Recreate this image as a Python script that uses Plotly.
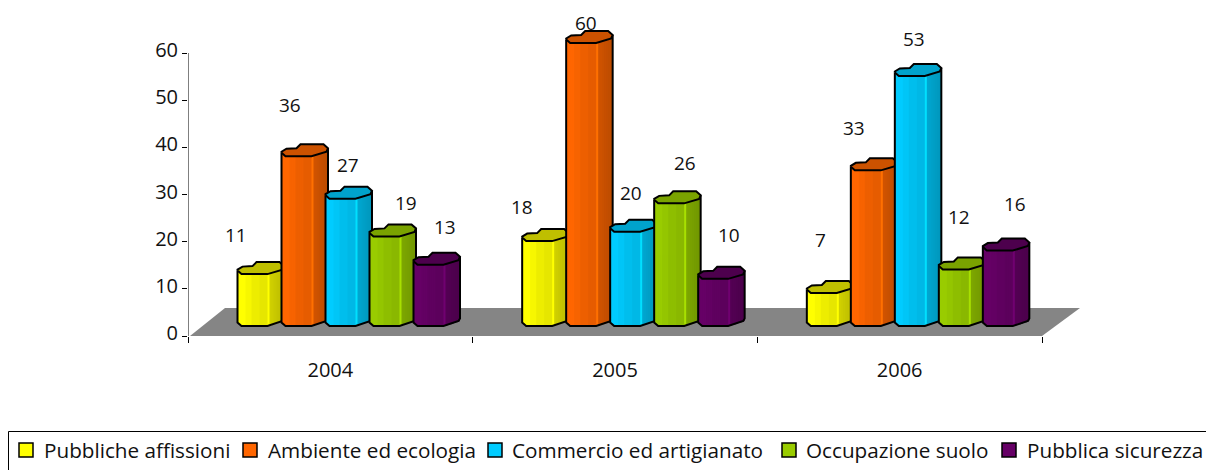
import plotly.graph_objects as go

years = ["2004", "2005", "2006"]
series_names = ["Pubbliche affissioni", "Ambiente ed ecologia", "Commercio ed artigianato",
                "Occupazione suolo", "Pubblica sicurezza"]
pubbliche = [11, 18, 7]
ambiente = [36, 60, 33]
commercio = [27, 20, 53]
occupazione = [19, 26, 12]
sicurezza = [13, 10, 16]
series_values = [pubbliche, ambiente, commercio, occupazione, sicurezza]
colors = ["#FFFF00", "#FF6600", "#00CCFF", "#99CC00", "#660066"]
top_colors = ["#BFBF00", "#CC5200", "#00A3CC", "#7AA300", "#4D004D"]
y_ticks = [0, 10, 20, 30, 40, 50, 60]
# label offsets from the bar's top centre (pixels: right, up), per series per year
label_dx = [[-25, -23, -10], [-15, -3, -20], [-1, -2, -4], [13, 8, -3], [8, 8, 9]]
label_dy = [[39, 34, 53], [51, 20, 42], [34, 39, 37], [33, 40, 52], [38, 44, 47]]
# legend layout in pixels
legend_swatch_x = [19, 243, 488, 782, 1002]
legend_text_x = [42, 266, 510, 804, 1025]

W, H = 1206, 470
LAYOUT_H = 480
AX_L, AX_R, AX_T, AX_B = 188, 1042, 53, 336
SX, SY = (AX_R - AX_L) / 3, (AX_B - AX_T) / 60
YMAX = 70
FLOOR = 10 / SY          # bars stand on the floor, 10px above the axis
BW = 46.5
START, PITCH = 49.5, 44
FONT = "Open Sans, Noto Sans, sans-serif"
FS = 20.7

SIDE = [(0, 3.5), (4, 0), (30, 0), (45, 5), (BW, 7.5)]
TOP = [(0, 3.5), (4, 0), (30, 0), (45, 4.5), (BW, 8), (42, 12), (19, 12), (15, 8), (5, 7.5), (0, 4.5)]


def px(x):
    return x / W


def py(y):
    return 1 - y / H


def prof(dx):
    for (a, b), (c, d) in zip(SIDE, SIDE[1:]):
        if dx <= c:
            return b + (d - b) * (dx - a) / (c - a)
    return SIDE[-1][1]


def shade(hex_c, f):
    r, g, b = (int(hex_c[i:i + 2], 16) for i in (1, 3, 5))
    return f"rgb({min(255, r * f):.0f},{min(255, g * f):.0f},{min(255, b * f):.0f})"


def slice_factor(dx):
    if 29 <= dx < 31:
        return 1.1
    if dx < 8:
        return 1.0
    if dx < 14:
        return 0.97
    if dx < 22:
        return 0.93
    if dx < 29:
        return 0.9
    return 0.82 - 0.006 * (dx - 31)


fig = go.Figure()
STEP = 2.0
n_slices = int(BW / STEP)
for i, (vals, col, tcol) in enumerate(zip(series_values, colors, top_colors)):
    lefts = [c + (START + PITCH * i) / SX for c in range(3)]
    z = 2 * i + 1
    # gradient slices of the cylinder; each overlaps the next so no seams show
    for k in range(n_slices):
        dx = k * STEP
        w = min(STEP + 2, BW - dx)
        fig.add_trace(go.Bar(
            x=[l + (dx + w / 2) / SX for l in lefts], y=vals,
            base=[FLOOR + prof(dx + STEP / 2) / SY] * 3,
            width=w / SX, marker=dict(color=shade(col, slice_factor(dx)), line_width=0),
            showlegend=False, hoverinfo="skip", zorder=z))
    # outline of the side and the top face
    ox, oy, tx, ty = [], [], [], []
    for l, v in zip(lefts, vals):
        pts = [(0, v * SY + 3.5)] + SIDE + [(BW, v * SY + 8)]
        ox += [l + a / SX for a, _ in pts] + [None]
        oy += [FLOOR + b / SY for _, b in pts] + [None]
        tx += [l + a / SX for a, _ in TOP] + [l, None]
        ty += [FLOOR + v + b / SY for _, b in TOP] + [FLOOR + v + 3.5 / SY, None]
    fig.add_trace(go.Scatter(x=ox, y=oy, mode="lines", line=dict(color="black", width=2),
                             showlegend=False, hoverinfo="skip", zorder=z + 1))
    fig.add_trace(go.Scatter(x=tx, y=ty, mode="lines", fill="toself", fillcolor=tcol,
                             line=dict(color="black", width=2),
                             showlegend=False, hoverinfo="skip", zorder=z + 1))

annotations = []
for i, vals in enumerate(series_values):
    for c, v in enumerate(vals):
        annotations.append(dict(
            x=c + (START + PITCH * i + BW / 2) / SX, y=FLOOR + v, xref="x", yref="y",
            text=str(v), showarrow=False, xshift=label_dx[i][c], yshift=label_dy[i][c],
            font=dict(family=FONT, size=19, color="#111111")))

floor_path = (f"M {px(190)} {py(336)} L {px(225)} {py(308)} L {px(1080)} {py(308)} L {px(1042)} {py(336)} Z")
shapes = [
    dict(type="path", path=floor_path, xref="paper", yref="paper", fillcolor="#858585", line_width=0, layer="below"),
    dict(type="rect", xref="paper", yref="paper", x0=px(8.5), x1=1.2, y0=py(431.5), y1=-0.2,
         line=dict(color="black", width=1), fillcolor="rgba(0,0,0,0)", layer="below"),
    dict(type="line", xref="x", yref="y", x0=0, x1=0, y0=0, y1=60, line=dict(color="black", width=1)),
]
for i, name in enumerate(series_names):
    sx = legend_swatch_x[i]
    shapes.append(dict(type="rect", xref="paper", yref="paper", x0=px(sx), x1=px(sx + 14), y0=py(457), y1=py(443),
                       line=dict(color="black", width=1.5), fillcolor=colors[i]))
    annotations.append(dict(x=px(legend_text_x[i]), y=py(450), xref="paper", yref="paper", xanchor="left",
                            yanchor="middle", text=name, showarrow=False,
                            font=dict(family=FONT, size=FS, color="#111111")))

fig.update_layout(
    width=W, height=LAYOUT_H, margin=dict(l=0, r=0, t=0, b=0), autosize=False,
    paper_bgcolor="white", plot_bgcolor="rgba(0,0,0,0)", barmode="overlay", showlegend=False,
    font=dict(family=FONT, size=20, color="#111111"),
    xaxis=dict(domain=[px(AX_L), px(AX_R)], range=[0, 3], tickvals=[0.5, 1.5, 2.5], ticktext=years, ticks="",
               showgrid=False, zeroline=False, showline=True, linecolor="black", linewidth=1,
               ticklabelstandoff=16,
               minor=dict(tickvals=[0, 1, 2, 3], ticks="outside", ticklen=6, tickcolor="black", showgrid=False)),
    yaxis=dict(domain=[py(AX_B), py(AX_B - YMAX * SY)], range=[0, YMAX], tickvals=y_ticks, ticks="outside",
               ticklen=5, tickcolor="black", showgrid=False, zeroline=False, showline=False, ticklabelshift=-3),
    shapes=shapes,
    annotations=annotations,
)
fig.write_html("out.html", config={"displayModeBar": False},
               post_script="document.documentElement.style.margin='0';document.body.style.margin='0';document.documentElement.style.overflow='hidden';document.body.style.overflow='hidden';")
